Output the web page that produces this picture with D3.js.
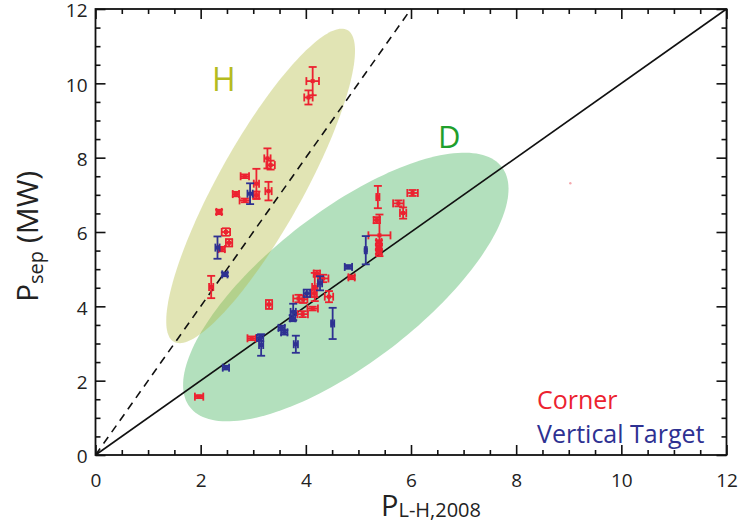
<!DOCTYPE html>
<html>
<head>
<meta charset="utf-8">
<script src="https://cdn.jsdelivr.net/npm/d3@7"></script>
<style>
  body { margin: 0; background: #fff; }
  svg { display: block; }
  text { font-family: "Open Sans", "DejaVu Sans", sans-serif; }
</style>
</head>
<body>
<svg id="chart" width="740" height="525"></svg>
<script>
// Corner divertor shots: threshold scaling P_L-H,2008 (x) vs measured P_sep (y), MW
const cornerX    = [4.13, 4.05, 3.27, 3.33, 3.29, 3.06, 3.06, 2.84, 2.67, 2.84, 2.35, 2.48, 2.54, 2.40, 2.20, 1.97, 2.97, 3.30, 3.86, 3.95, 3.94, 4.13, 4.16, 4.21, 4.17, 4.33, 4.44, 4.87, 5.40, 5.39, 5.39, 5.39, 5.37, 5.35, 5.76, 5.85, 6.03];
const cornerY    = [10.06, 9.62, 7.98, 7.80, 7.10, 7.30, 6.99, 7.50, 7.02, 6.85, 6.54, 6.00, 5.71, 5.54, 4.52, 1.57, 3.14, 4.05, 4.21, 4.19, 3.79, 3.94, 4.35, 4.88, 4.52, 4.75, 4.26, 4.78, 5.91, 5.73, 5.59, 5.46, 6.94, 6.32, 6.77, 6.51, 7.05];
const cornerXErr = [0.12, 0.08, 0.06, 0.08, 0.06, 0.05, 0.05, 0.08, 0.06, 0.10, 0.05, 0.08, 0.06, 0.06, 0.04, 0.08, 0.08, 0.06, 0.10, 0.08, 0.10, 0.10, 0.05, 0.06, 0.05, 0.10, 0.08, 0.06, 0.21, 0.05, 0.05, 0.05, 0.03, 0.06, 0.10, 0.06, 0.10];
const cornerYErr = [0.38, 0.19, 0.27, 0.12, 0.25, 0.40, 0.10, 0.05, 0.06, 0.05, 0.06, 0.10, 0.10, 0.06, 0.30, 0.04, 0.05, 0.12, 0.10, 0.10, 0.08, 0.05, 0.10, 0.08, 0.38, 0.10, 0.15, 0.05, 0.56, 0.05, 0.05, 0.05, 0.30, 0.08, 0.08, 0.15, 0.08];

// Vertical target shots
const targetX    = [2.94, 2.32, 2.46, 2.48, 3.15, 3.13, 3.54, 3.59, 3.81, 3.76, 3.75, 4.02, 4.27, 4.51, 4.81, 5.14];
const targetY    = [7.03, 5.58, 4.86, 2.35, 2.96, 3.15, 3.42, 3.30, 2.98, 3.85, 3.68, 4.35, 4.62, 3.54, 5.06, 5.51];
const targetXErr = [0.05, 0.04, 0.05, 0.06, 0.04, 0.06, 0.06, 0.06, 0.04, 0.05, 0.05, 0.06, 0.04, 0.03, 0.07, 0.02];
const targetYErr = [0.28, 0.30, 0.05, 0.05, 0.29, 0.08, 0.06, 0.06, 0.23, 0.22, 0.08, 0.10, 0.19, 0.42, 0.05, 0.38];

// Stray point at the right of the D region
const strayX = [9.03];
const strayY = [7.31];

// Confinement regions: centre and half-axis vectors, in data units
const hCentre = [3.14, 7.24];
const hMajor  = [1.650, 4.194];
const hMinor  = [0.707, -0.556];
const dCentre = [4.76, 4.52];
const dMajor  = [2.966, 3.231];
const dMinor  = [0.882, -1.618];

// Reference lines P_sep = k * P_L-H
const solidSlope  = 1;
const dashedSlope = 2;

const axisMax    = 12;
const majorTicks = [0, 2, 4, 6, 8, 10, 12];
const minorTicks = d3.range(0, 12.01, 0.5).filter(v => v % 2 !== 0);

const svg = d3.select("#chart");
const plotLeft = 95.5, plotRight = 726.5, plotTop = 9, plotBottom = 455;

const x = d3.scaleLinear().domain([0, axisMax]).range([plotLeft, plotRight]);
const y = d3.scaleLinear().domain([0, axisMax]).range([plotBottom, plotTop]);

// Regions
const angles = d3.range(0, 360, 2).map(a => a * Math.PI / 180);
function regionPath(c, a, b) {
  return d3.line()
    .x(t => x(c[0] + a[0] * Math.cos(t) + b[0] * Math.sin(t)))
    .y(t => y(c[1] + a[1] * Math.cos(t) + b[1] * Math.sin(t)))
    .curve(d3.curveLinearClosed)(angles);
}
svg.append("path").attr("d", regionPath(dCentre, dMajor, dMinor))
  .attr("fill", "#b3e0bd");
svg.append("path").attr("d", regionPath(hCentre, hMajor, hMinor))
  .attr("fill", "rgb(180,188,68)").attr("fill-opacity", 0.4);

// Reference lines
svg.append("line")
  .attr("x1", x(0)).attr("y1", y(0))
  .attr("x2", x(axisMax / solidSlope)).attr("y2", y(axisMax))
  .attr("stroke", "#111").attr("stroke-width", 1.6);
svg.append("line")
  .attr("x1", x(0)).attr("y1", y(0))
  .attr("x2", x(axisMax / dashedSlope)).attr("y2", y(axisMax))
  .attr("stroke", "#111").attr("stroke-width", 1.6)
  .attr("stroke-dasharray", "8,6");

// Points with error bars
function drawSeries(xs, ys, xe, ye, colour) {
  const g = svg.append("g").attr("stroke", colour).attr("fill", colour)
    .attr("stroke-width", 1.8);
  const cap = 4;
  xs.forEach((xv, i) => {
    const cx = x(xv), cy = y(ys[i]);
    const y0 = y(ys[i] - ye[i]), y1 = y(ys[i] + ye[i]);
    const x0 = x(xv - xe[i]), x1 = x(xv + xe[i]);
    const p = g.append("g");
    p.append("line").attr("x1", cx).attr("x2", cx).attr("y1", y0).attr("y2", y1);
    p.append("line").attr("x1", cx - cap).attr("x2", cx + cap).attr("y1", y0).attr("y2", y0);
    p.append("line").attr("x1", cx - cap).attr("x2", cx + cap).attr("y1", y1).attr("y2", y1);
    p.append("line").attr("x1", x0).attr("x2", x1).attr("y1", cy).attr("y2", cy);
    p.append("line").attr("x1", x0).attr("x2", x0).attr("y1", cy - cap).attr("y2", cy + cap);
    p.append("line").attr("x1", x1).attr("x2", x1).attr("y1", cy - cap).attr("y2", cy + cap);
    p.append("rect").attr("x", cx - 2).attr("y", cy - 2).attr("width", 4).attr("height", 4)
      .attr("stroke", "none");
  });
}
drawSeries(cornerX, cornerY, cornerXErr, cornerYErr, "#ec2230");
drawSeries(targetX, targetY, targetXErr, targetYErr, "#2e3192");

svg.selectAll("circle.stray").data(strayX).join("circle")
  .attr("class", "stray")
  .attr("cx", d => x(d)).attr("cy", (d, i) => y(strayY[i]))
  .attr("r", 1.2).attr("fill", "#f4a8ad");

// Axes with inward ticks on all four sides
function styleAxis(g) {
  g.select(".domain").remove();
  g.selectAll(".tick line").attr("stroke", "#111").attr("stroke-width", 1.6);
  g.selectAll("text").attr("fill", "#222").style("font-size", "19px")
    .style("font-family", "\"Open Sans\", sans-serif");
}
const fmt = d3.format("d");
svg.append("g").attr("transform", `translate(0,${plotBottom})`)
  .call(d3.axisBottom(x).tickValues(majorTicks).tickSize(-10).tickPadding(19).tickFormat(fmt))
  .call(styleAxis);
svg.append("g").attr("transform", `translate(0,${plotBottom})`)
  .call(d3.axisBottom(x).tickValues(minorTicks).tickSize(-5).tickFormat(""))
  .call(styleAxis);
svg.append("g").attr("transform", `translate(0,${plotTop})`)
  .call(d3.axisTop(x).tickValues(majorTicks).tickSize(-10).tickFormat(""))
  .call(styleAxis);
svg.append("g").attr("transform", `translate(0,${plotTop})`)
  .call(d3.axisTop(x).tickValues(minorTicks).tickSize(-5).tickFormat(""))
  .call(styleAxis);
svg.append("g").attr("transform", `translate(${plotLeft},0)`)
  .call(d3.axisLeft(y).tickValues(majorTicks).tickSize(-10).tickPadding(8).tickFormat(fmt))
  .call(styleAxis)
  .call(g => g.selectAll(".tick text").attr("dy", "0.42em"));
svg.append("g").attr("transform", `translate(${plotLeft},0)`)
  .call(d3.axisLeft(y).tickValues(minorTicks).tickSize(-5).tickFormat(""))
  .call(styleAxis);
svg.append("g").attr("transform", `translate(${plotRight},0)`)
  .call(d3.axisRight(y).tickValues(majorTicks).tickSize(-10).tickFormat(""))
  .call(styleAxis);
svg.append("g").attr("transform", `translate(${plotRight},0)`)
  .call(d3.axisRight(y).tickValues(minorTicks).tickSize(-5).tickFormat(""))
  .call(styleAxis);

// Frame
svg.append("rect").attr("x", plotLeft).attr("y", plotTop)
  .attr("width", plotRight - plotLeft).attr("height", plotBottom - plotTop)
  .attr("fill", "none").attr("stroke", "#111").attr("stroke-width", 1.8);

// Region labels
svg.append("text").attr("x", 212).attr("y", 91).text("H")
  .attr("fill", "#b5bb1f").style("font-size", "32px");
svg.append("text").attr("x", 438).attr("y", 148).text("D")
  .attr("fill", "#1f9f2c").style("font-size", "31px");

// Legend
svg.append("text").attr("x", 537).attr("y", 409).text("Corner")
  .attr("fill", "#ec2230").style("font-size", "25px");
svg.append("text").attr("x", 537).attr("y", 443).text("Vertical Target")
  .attr("fill", "#2e3192").style("font-size", "25px");

// Axis titles
const xt = svg.append("text").attr("x", 381).attr("y", 516).attr("fill", "#222");
xt.append("tspan").text("P").style("font-size", "29px");
xt.append("tspan").text("L-H,2008").style("font-size", "20px").attr("dy", 1);

const yt = svg.append("text").attr("transform", "translate(38,302) rotate(-90)")
  .attr("fill", "#222");
yt.append("tspan").text("P").style("font-size", "30px");
yt.append("tspan").text("sep").style("font-size", "20px").attr("dy", 5);
yt.append("tspan").text(" (MW)").style("font-size", "30px").attr("dy", -5);
</script>
</body>
</html>
